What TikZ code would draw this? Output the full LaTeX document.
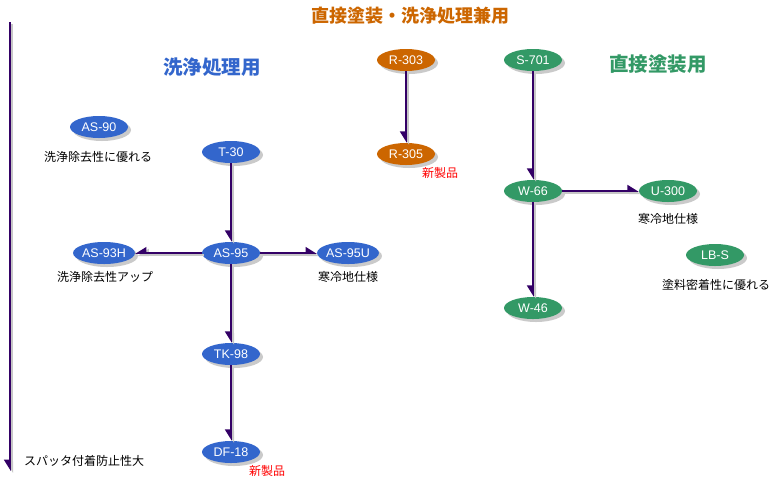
\documentclass[tikz,border=0pt]{standalone}
\usepackage{fontspec}
\setmainfont{Liberation Sans}
\newfontfamily\jp{Noto Sans CJK JP}
\usetikzlibrary{arrows.meta,shadows,shapes.geometric}
\definecolor{bluec}{HTML}{3366CC}
\definecolor{orangec}{HTML}{CC6600}
\definecolor{greenc}{HTML}{339966}
\definecolor{linec}{HTML}{330066}
\definecolor{newc}{HTML}{FF0000}
\begin{document}
\begin{tikzpicture}[x=1pt,y=-1pt,
  prod/.style={ellipse, minimum width=58pt, minimum height=22pt, inner sep=0pt,
    text=white, font=\fontsize{12.5}{14}\selectfont,
    drop shadow={shadow xshift=3pt, shadow yshift=-3pt, opacity=0.35, fill=black!60}},
  bprod/.style={prod, fill=bluec},
  oprod/.style={prod, fill=orangec},
  gprod/.style={prod, fill=greenc},
  lbl/.style={font=\jp\fontsize{12}{14}\selectfont, inner sep=0pt},
  newlbl/.style={lbl, text=newc},
  title/.style={font=\jp\bfseries\fontsize{19.5}{22}\selectfont, inner sep=0pt},
  conn/.style={draw=linec, line width=1.6pt,
    preaction={draw=black!22, line width=2pt, transform canvas={shift={(2pt,-2pt)}}}},
  hd/.style={-{Triangle[right, length=10pt, width=12pt]}},
  hu/.style={-{Triangle[left, length=10pt, width=12pt]}},
]
\useasboundingbox (0,0) rectangle (775,483);

% titles
\node[title, text=orangec, font=\jp\bfseries\fontsize{18}{21}\selectfont] (tboth) at (410,16) {直接塗装・洗浄処理兼用};
\node[title, text=bluec] (tclean) at (212,67) {洗浄処理用};
\node[title, text=greenc] (tpaint) at (658,64) {直接塗装用};

% axis
\coordinate (axtop) at (10,22);
\coordinate (axbot) at (10,471);
\draw[conn, hd] (axtop) -- (axbot);
\node[lbl, anchor=west] (axlbl) at (24,461) {スパッタ付着防止性大};

% cleaning group
\node[bprod] (as90) at (99,127) {AS-90};
\node[lbl] (as90l) at (98,157) {洗浄除去性に優れる};
\node[bprod] (t30) at (231,152) {T-30};
\node[bprod] (as95) at (231,253) {AS-95};
\node[bprod] (as93h) at (104,253) {AS-93H};
\node[lbl] (as93hl) at (105,277) {洗浄除去性アップ};
\node[bprod] (as95u) at (348,253) {AS-95U};
\node[lbl] (as95ul) at (348,277) {寒冷地仕様};
\node[bprod] (tk98) at (231,354) {TK-98};
\node[bprod] (df18) at (231,452) {DF-18};
\node[newlbl] (df18l) at (267,471) {新製品};

\draw[conn, hd] (t30) -- (as95);
\draw[conn, hd] (as95) -- (as93h);
\draw[conn, hu] (as95) -- (as95u);
\draw[conn, hd] (as95) -- (tk98);
\draw[conn, hd] (tk98) -- (df18);

% both group
\node[oprod] (r303) at (406,60) {R-303};
\node[oprod] (r305) at (406,154) {R-305};
\node[newlbl] (r305l) at (440,173) {新製品};
\draw[conn, hd] (r303) -- (r305);

% painting group
\node[gprod] (s701) at (533,60) {S-701};
\node[gprod] (w66) at (533,191) {W-66};
\node[gprod] (u300) at (668,191) {U-300};
\node[lbl] (u300l) at (668,219) {寒冷地仕様};
\node[gprod] (lbs) at (715,255) {LB-S};
\node[lbl] (lbsl) at (716,285) {塗料密着性に優れる};
\node[gprod] (w46) at (533,308) {W-46};

\draw[conn, hd] (s701) -- (w66);
\draw[conn, hu] (w66) -- (u300);
\draw[conn, hd] (w66) -- (w46);
\end{tikzpicture}
\end{document}
